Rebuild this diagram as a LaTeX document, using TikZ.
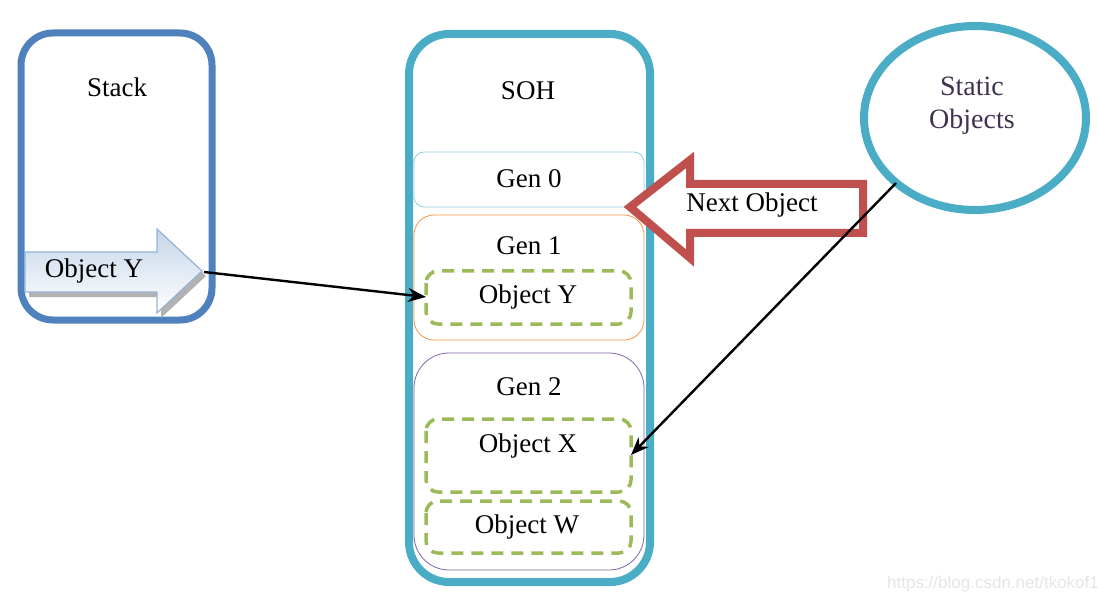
\documentclass[tikz,border=0pt]{standalone}
\usepackage{fontspec}
\setmainfont{Liberation Serif}
\usetikzlibrary{arrows.meta,shapes.geometric}
\definecolor{stackblue}{HTML}{4F81BD}
\definecolor{sohteal}{HTML}{4BACC6}
\definecolor{gen0c}{HTML}{92CDDC}
\definecolor{gen1c}{HTML}{F79646}
\definecolor{gen2c}{HTML}{8064A2}
\definecolor{objgreen}{HTML}{9BBB59}
\definecolor{nextred}{HTML}{C0504D}
\definecolor{arrowblue}{HTML}{95B3D7}
\definecolor{staticpurple}{HTML}{3F3151}
\tikzset{
  txt/.style={font=\fontsize{27}{31}\selectfont, inner sep=0pt},
  bigbox/.style={line width=7pt, rounded corners=32pt},
  genbox/.style={line width=0.8pt},
  objbox/.style={draw=objgreen, line width=3.5pt, dash pattern=on 12pt off 8pt, rounded corners=12pt},
  link/.style={line width=2.4pt, -{Stealth[length=18pt,width=14pt]}},
}
\begin{document}
\begin{tikzpicture}[x=1pt,y=-1pt]
\useasboundingbox (0,0) rectangle (1098,604);
% Stack
\draw[bigbox, draw=stackblue] (21,33) rectangle (212,320);
\node[txt] (stack) at (117,87) {Stack};
% SOH
\draw[bigbox, draw=sohteal, line width=8pt, rounded corners=40pt] (409,34) rectangle (650,582);
\node[txt] (soh) at (528,91) {SOH};
% Gen 0
\draw[genbox, draw=gen0c, rounded corners=10pt] (414,152) rectangle (644,207);
\node[txt] (gen0) at (529,179) {Gen 0};
% Gen 1
\draw[genbox, draw=gen1c, rounded corners=20pt] (414,215) rectangle (644,340);
\node[txt] (gen1) at (529,246) {Gen 1};
\draw[objbox] (426,271) rectangle (631,324);
\node[txt] (objy) at (528,297) {Object Y};
\coordinate (objyL) at (426,297);
% Gen 2
\draw[genbox, draw=gen2c, rounded corners=35pt] (414,353) rectangle (644,570);
\node[txt] (gen2) at (529,387) {Gen 2};
\draw[objbox] (426,419) rectangle (631,492);
\node[txt] (objx) at (528,446) {Object X};
\coordinate (objxR) at (631,455);
\draw[objbox] (426,501) rectangle (631,553);
\node[txt] (objw) at (527,527) {Object W};
% Object Y arrow in stack
\fill[gray!60] (29,257) -- (161,257) -- (161,234) -- (206,276) -- (161,318) -- (161,297) -- (29,297) -- cycle;
\shade[top color=arrowblue!55, bottom color=white, draw=arrowblue, line width=1.2pt]
  (25,252) -- (157,252) -- (157,229) -- (202,271) -- (157,313) -- (157,292) -- (25,292) -- cycle;
\node[txt] (stacky) at (94,271) {Object Y};
\coordinate (stackytip) at (204,272);
% Next Object arrow
\draw[nextred, line width=8pt, fill=white, line join=miter]
  (630,207) -- (690,160) -- (690,184) -- (863,184) -- (863,233) -- (690,233) -- (690,258) -- cycle;
\node[txt] (next) at (752,205) {Next Object};
% Static objects
\node[ellipse, draw=sohteal, line width=8pt, minimum width=222pt, minimum height=184pt, inner sep=0pt] (static) at (975,118) {};
\node[txt, text=staticpurple, align=center, font=\fontsize{28}{33}\selectfont] (statictxt) at (972,106) {Static\\Objects};
\coordinate (staticS) at (896,183);
% links
\draw[link] (stackytip) -- (objyL);
\draw[link] (staticS) -- (objxR);
% watermark
\node[font=\fontspec{Liberation Sans}\fontsize{17}{20}\selectfont, text=black!10, inner sep=0pt] (wm) at (993,584) {https://blog.csdn.net/tkokof1};
\end{tikzpicture}
\end{document}
